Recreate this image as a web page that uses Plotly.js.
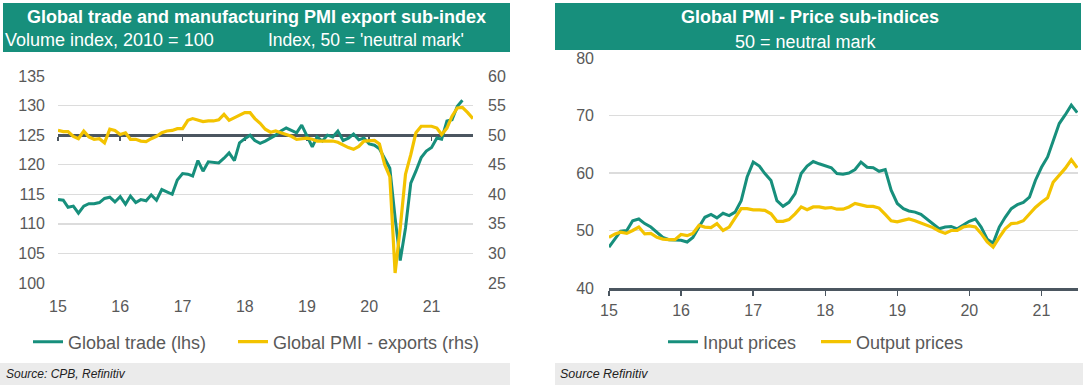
<!DOCTYPE html>
<html>
<head>
<meta charset="utf-8">
<script src="https://cdn.plot.ly/plotly-3.0.1.min.js"></script>
<style>html,body{margin:0;padding:0;background:#fff;}#chart{width:1083px;height:391px;}</style>
</head>
<body>
<div id="chart"></div>
<script>
// ---- data (monthly, starting Jan 2015) ----
const startYear = 2015;
const yearTicks = ['2015-01-01','2016-01-01','2017-01-01','2018-01-01','2019-01-01','2020-01-01','2021-01-01'];
const yearLabels = ['15','16','17','18','19','20','21'];

// Global trade volume index (lhs, 2010 = 100)
const globalTrade = [
  114.1,114.0,112.8,113.0,111.8,113.0,113.4,113.4,113.6,114.3,114.5,113.7,
  114.6,113.3,114.7,113.6,114.1,113.9,114.9,114.0,115.8,115.4,115.0,117.4,
  118.5,118.4,118.1,120.7,118.9,120.5,120.4,120.3,121.1,122.0,120.7,123.7,
  124.4,125.0,124.1,123.6,124.0,124.5,125.0,125.7,126.2,125.8,125.4,126.7,
  124.8,123.0,124.7,124.0,125.0,124.7,125.7,124.1,124.5,125.2,124.2,124.5,
  123.5,123.3,122.7,121.1,119.4,111.0,103.8,109.3,116.9,118.9,121.2,122.3,
  122.9,124.5,124.3,127.4,127.6,129.9,130.9
];
// Global manufacturing PMI export sub-index (rhs)
const pmiExports = [
  50.8,50.6,50.6,49.8,49.4,50.7,49.7,49.3,49.4,48.7,51.0,50.8,
  50.1,50.4,49.3,49.3,49.0,48.9,49.4,49.8,50.4,50.7,50.8,51.1,
  51.1,52.5,52.8,52.5,52.3,52.4,52.4,52.6,53.5,52.5,52.9,53.4,
  53.8,53.8,52.8,52.0,51.0,50.5,50.7,50.4,50.1,49.8,49.3,49.4,
  49.5,49.3,49.0,49.0,49.0,49.0,48.8,48.3,47.9,47.6,48.1,49.0,
  49.1,49.1,48.5,45.0,43.0,26.7,34.3,43.4,46.7,50.4,51.5,51.5,
  51.5,51.2,50.1,51.2,53.2,54.6,54.7,53.8,52.8
];
// Global PMI price sub-indices
const inputPrices = [
  47.1,48.5,49.9,50.0,51.7,52.0,51.2,50.6,49.7,48.8,48.4,48.4,
  48.3,48.0,48.8,50.6,52.3,52.8,52.2,53.0,52.6,53.2,55.2,59.3,
  61.9,61.2,59.9,58.7,55.2,54.2,54.9,56.4,59.9,61.2,62.0,61.6,
  61.2,60.9,59.9,59.8,60.0,60.6,61.9,61.0,60.9,60.3,60.6,57.0,
  54.7,53.8,53.4,53.2,52.8,52.0,51.2,50.3,50.6,50.7,50.3,50.9,
  51.6,52.0,50.6,48.5,47.8,50.6,52.3,53.8,54.5,54.9,55.8,58.7,
  61.0,62.8,65.7,68.6,70.1,71.8,70.5
];
const outputPrices = [
  48.8,49.4,49.7,49.5,50.0,50.6,49.4,49.5,48.8,48.5,48.4,48.4,
  49.3,49.1,49.5,50.9,50.6,50.5,51.2,50.0,50.6,52.3,53.8,53.8,
  53.6,53.6,53.5,52.9,51.6,51.6,51.9,52.9,54.1,53.6,54.1,54.1,
  53.9,54.0,53.7,53.7,54.1,54.7,54.5,54.2,54.2,53.9,52.8,51.7,
  51.5,51.7,52.0,51.7,51.3,50.9,50.5,49.9,49.5,50.0,50.0,50.6,
  50.8,50.6,49.5,48.0,47.1,48.8,50.3,51.2,51.3,51.7,52.9,54.0,
  54.9,55.7,58.4,59.6,60.8,62.3,60.9
];

function monthDates(n){
  const out=[];
  for(let i=0;i<n;i++){
    const y=startYear+Math.floor(i/12), m=(i%12)+1;
    out.push(y+'-'+(m<10?'0':'')+m+'-01');
  }
  return out;
}

const W=1083,H=391;
const TEAL='#178f7c', YEL='#f3c300', GRID='#dcdcdc', TXT='#595959', AX='#4b5660';
const FONT='"Liberation Sans", Arial, sans-serif';
const px=x=>x/W, py=y=>1-y/H;

// left plot geometry
const Ldom=[px(58),px(473)], Lydom=[py(283),py(76)];
const neutralPos = Lydom[0] + (Lydom[1]-Lydom[0])*(125-100)/(135-100);
// right plot geometry
const Rdom=[px(609),px(1078)], Rydom=[py(288),py(58)];

const traces=[
  {x:monthDates(globalTrade.length), y:globalTrade, name:'Global trade (lhs)', type:'scatter', mode:'lines',
   line:{color:TEAL,width:3}, xaxis:'x', yaxis:'y', legend:'legend', legendwidth:160, hoverinfo:'skip'},
  {x:monthDates(pmiExports.length), y:pmiExports, name:'Global PMI - exports (rhs)', type:'scatter', mode:'lines',
   line:{color:YEL,width:3.2}, xaxis:'x2', yaxis:'y2', legend:'legend', hoverinfo:'skip'},
  {x:monthDates(inputPrices.length), y:inputPrices, name:'Input prices', type:'scatter', mode:'lines',
   line:{color:TEAL,width:3}, xaxis:'x3', yaxis:'y3', legend:'legend2', legendwidth:108, hoverinfo:'skip'},
  {x:monthDates(outputPrices.length), y:outputPrices, name:'Output prices', type:'scatter', mode:'lines',
   line:{color:YEL,width:3.2}, xaxis:'x3', yaxis:'y3', legend:'legend2', hoverinfo:'skip'}
];

const tickFont={family:FONT,size:16,color:TXT};
const layout={
  width:W,height:H,margin:{l:0,r:0,t:0,b:0},
  paper_bgcolor:'#fff',plot_bgcolor:'rgba(0,0,0,0)',
  font:{family:FONT,color:TXT},
  showlegend:true,
  xaxis:{domain:Ldom,anchor:'y',type:'date',range:['2015-01-01','2021-09-01'],
    tickmode:'array',tickvals:yearTicks,ticktext:yearLabels,showgrid:false,zeroline:false,
    showline:false,ticks:'',tickfont:tickFont,ticklabelstandoff:12,fixedrange:true},
  xaxis2:{domain:Ldom,overlaying:'x',matches:'x',anchor:'free',position:neutralPos,type:'date',
    range:['2015-01-01','2021-09-01'],tickmode:'array',tickvals:yearTicks,showticklabels:false,
    showgrid:false,zeroline:false,showline:true,linecolor:AX,linewidth:2.5,
    ticks:'outside',ticklen:4,tickwidth:1.5,tickcolor:AX,layer:'below traces'},
  yaxis:{domain:Lydom,anchor:'x',range:[100,135],dtick:5,tick0:100,showgrid:true,gridcolor:GRID,gridwidth:1.5,
    zeroline:false,showline:false,ticks:'',tickfont:tickFont,ticklabelstandoff:12},
  yaxis2:{domain:Lydom,anchor:'x2',overlaying:'y',side:'right',range:[25,60],dtick:5,tick0:25,showgrid:false,
    zeroline:false,showline:false,ticks:'',tickfont:tickFont,ticklabelstandoff:14},
  xaxis3:{domain:Rdom,anchor:'y3',type:'date',range:['2015-01-01','2021-07-05'],
    tickmode:'array',tickvals:yearTicks,ticktext:yearLabels,showgrid:false,zeroline:false,
    showline:true,linecolor:AX,linewidth:2.5,ticks:'outside',ticklen:5,tickwidth:1.5,tickcolor:AX,
    tickfont:tickFont,ticklabelstandoff:1},
  yaxis3:{domain:Rydom,anchor:'x3',range:[40,80],dtick:10,tick0:40,showgrid:true,gridcolor:GRID,gridwidth:1.5,
    zeroline:false,showline:false,ticks:'',tickfont:tickFont,ticklabelstandoff:14},
  legend:{orientation:'h',x:px(28),xanchor:'left',y:py(342),yanchor:'middle',
    font:{family:FONT,size:18,color:TXT},bgcolor:'rgba(0,0,0,0)',traceorder:'normal'},
  legend2:{orientation:'h',x:px(663),xanchor:'left',y:py(342),yanchor:'middle',
    font:{family:FONT,size:18,color:TXT},bgcolor:'rgba(0,0,0,0)',traceorder:'normal'},
  shapes:[
    {type:'rect',xref:'paper',yref:'paper',x0:px(3),x1:px(510),y0:py(52),y1:py(3),fillcolor:TEAL,line:{width:0},layer:'above'},
    {type:'rect',xref:'paper',yref:'paper',x0:px(555),x1:px(1081),y0:py(50),y1:py(3),fillcolor:TEAL,line:{width:0},layer:'above'},
    {type:'rect',xref:'paper',yref:'paper',x0:px(0),x1:px(510),y0:py(385),y1:py(363),fillcolor:'#ebebeb',line:{width:0},layer:'below'},
    {type:'rect',xref:'paper',yref:'paper',x0:px(555),x1:px(1083),y0:py(385),y1:py(363),fillcolor:'#ebebeb',line:{width:0},layer:'below'}
  ],
  annotations:[
    {text:'<b>Global trade and manufacturing PMI export sub-index</b>',xref:'paper',yref:'paper',x:px(256),y:py(17),
      xanchor:'center',yanchor:'middle',showarrow:false,font:{family:FONT,size:18,color:'#fff'}},
    {text:'Volume index, 2010 = 100',xref:'paper',yref:'paper',x:px(3),y:py(40),
      xanchor:'left',yanchor:'middle',showarrow:false,font:{family:FONT,size:18,color:'#fff'}},
    {text:"Index, 50 = 'neutral mark'",xref:'paper',yref:'paper',x:px(266),y:py(40),
      xanchor:'left',yanchor:'middle',showarrow:false,font:{family:FONT,size:17.5,color:'#fff'}},
    {text:'<b>Global PMI - Price sub-indices</b>',xref:'paper',yref:'paper',x:px(810),y:py(17),
      xanchor:'center',yanchor:'middle',showarrow:false,font:{family:FONT,size:18,color:'#fff'}},
    {text:'50 = neutral mark',xref:'paper',yref:'paper',x:px(806),y:py(42),
      xanchor:'center',yanchor:'middle',showarrow:false,font:{family:FONT,size:18,color:'#fff'}},
    {text:'<i>Source: CPB, Refinitiv</i>',xref:'paper',yref:'paper',x:px(4),y:py(374),
      xanchor:'left',yanchor:'middle',showarrow:false,font:{family:FONT,size:12,color:'#222'}},
    {text:'<i>Source Refinitiv</i>',xref:'paper',yref:'paper',x:px(558),y:py(374),
      xanchor:'left',yanchor:'middle',showarrow:false,font:{family:FONT,size:12.5,color:'#222'}}
  ]
};

Plotly.newPlot('chart',traces,layout,{staticPlot:true,displayModeBar:false});
</script>
</body>
</html>
